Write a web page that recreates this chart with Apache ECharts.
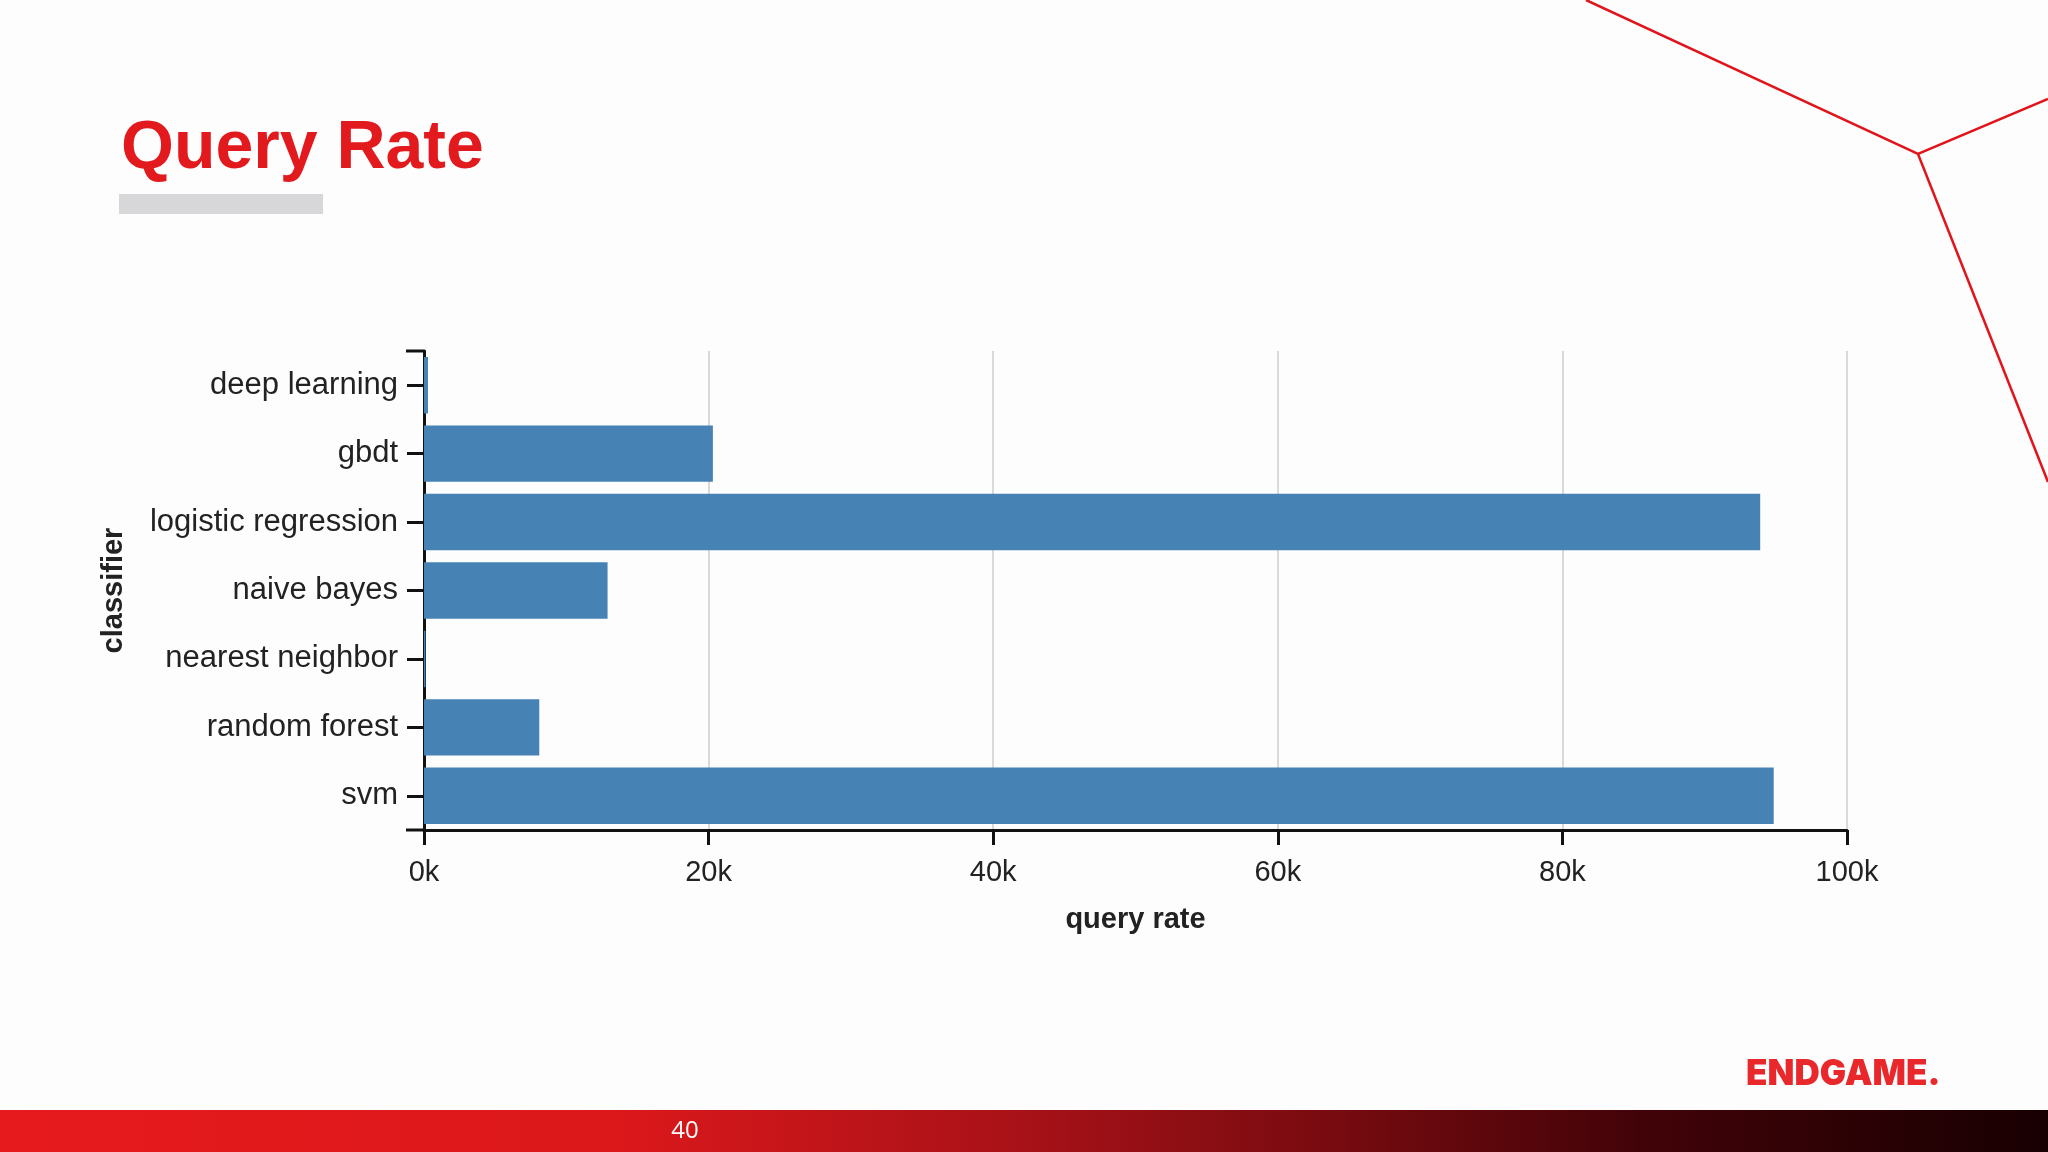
<!DOCTYPE html>
<html>
<head>
<meta charset="utf-8">
<script src="https://cdn.jsdelivr.net/npm/echarts@6/dist/echarts.min.js"></script>
<style>
html,body{margin:0;padding:0;background:#fdfdfd;}
#c{width:2048px;height:1152px;}
</style>
</head>
<body>
<div id="c"></div>
<script>
const categories = ['deep learning', 'gbdt', 'logistic regression', 'naive bayes', 'nearest neighbor', 'random forest', 'svm'];
const queryRate = [280, 20300, 93900, 12900, 100, 8100, 94850];
const xTicks = [0, 20000, 40000, 60000, 80000, 100000];
const slideTitle = 'Query Rate';
const pageNumber = '40';
const logoText = 'ENDGAME.';

const G = { left: 424, right: 201, top: 351, bottom: 322 };
const chart = echarts.init(document.getElementById('c'));
const W = 2048, H = 1152;
const gBottom = H - G.bottom;

chart.setOption({
  backgroundColor: '#fdfdfd',
  animation: false,
  grid: { left: G.left, right: G.right, top: G.top, bottom: G.bottom, containLabel: false },
  xAxis: {
    type: 'value',
    min: xTicks[0],
    max: xTicks[xTicks.length - 1],
    interval: xTicks[1] - xTicks[0],
    name: 'query rate',
    nameLocation: 'middle',
    nameGap: 75,
    nameTextStyle: { fontFamily: 'Liberation Sans', fontWeight: 'bold', fontSize: 29, color: '#222' },
    axisLine: { show: true, lineStyle: { color: '#111', width: 3 } },
    axisTick: { show: true, length: 15, lineStyle: { color: '#111', width: 3 } },
    axisLabel: {
      margin: 28, fontFamily: 'Liberation Sans', fontSize: 29, color: '#222',
      formatter: v => (v / 1000) + 'k'
    },
    splitLine: { show: true, lineStyle: { color: '#d9d9dc', width: 2 } }
  },
  yAxis: {
    type: 'category',
    data: categories,
    inverse: true,
    name: 'classifier',
    nameLocation: 'middle',
    nameGap: 296,
    nameRotate: 90,
    nameTextStyle: { fontFamily: 'Liberation Sans', fontWeight: 'bold', fontSize: 29, color: '#222' },
    axisLine: { show: true, lineStyle: { color: '#111', width: 3 } },
    axisTick: { show: true, alignWithLabel: true, length: 17, lineStyle: { color: '#111', width: 3 } },
    axisLabel: { margin: 26, fontFamily: 'Liberation Sans', fontSize: 31, color: '#222' },
    splitLine: { show: false }
  },
  series: [{
    type: 'bar',
    data: queryRate,
    barCategoryGap: '17.5%',
    itemStyle: { color: '#4682b4' },
    silent: true
  }],
  graphic: [
    { type: 'line', shape: { x1: G.left - 18, y1: G.top, x2: G.left, y2: G.top }, style: { stroke: '#111', lineWidth: 3 }, z: 10 },
    { type: 'line', shape: { x1: G.left - 18, y1: gBottom, x2: G.left, y2: gBottom }, style: { stroke: '#111', lineWidth: 3 }, z: 10 },
    { type: 'text', x: 121, y: 149, style: { text: slideTitle, font: 'bold 68px "Liberation Sans"', fill: '#e2191d', verticalAlign: 'middle', align: 'left' } },
    { type: 'rect', shape: { x: 119, y: 194, width: 204, height: 20 }, style: { fill: '#d7d7d9' } },
    { type: 'polyline', shape: { points: [[1586, 0], [1918, 154], [2048, 99]] }, style: { stroke: '#e0151c', lineWidth: 2.5, fill: null } },
    { type: 'line', shape: { x1: 1918, y1: 154, x2: 2048, y2: 482 }, style: { stroke: '#e0151c', lineWidth: 2.5 } },
    { type: 'rect', shape: { x: 0, y: 1110, width: W, height: 42 },
      style: { fill: new echarts.graphic.LinearGradient(0, 0, 1, 0, [
        { offset: 0, color: '#e61a1c' },
        { offset: 0.3, color: '#dc181b' },
        { offset: 0.49, color: '#aa1218' },
        { offset: 0.65, color: '#780b10' },
        { offset: 0.8, color: '#420308' },
        { offset: 1, color: '#180002' }
      ]) } },
    { type: 'text', x: 685, y: 1131, style: { text: pageNumber, font: '24px "Open Sans"', fill: '#ffffff', verticalAlign: 'middle', align: 'center' } },
    { type: 'text', x: 1746, y: 1074, style: { text: logoText, font: '900 35px Inter', fill: '#e8282b', verticalAlign: 'middle', align: 'left' } }
  ]
});
</script>
</body>
</html>
